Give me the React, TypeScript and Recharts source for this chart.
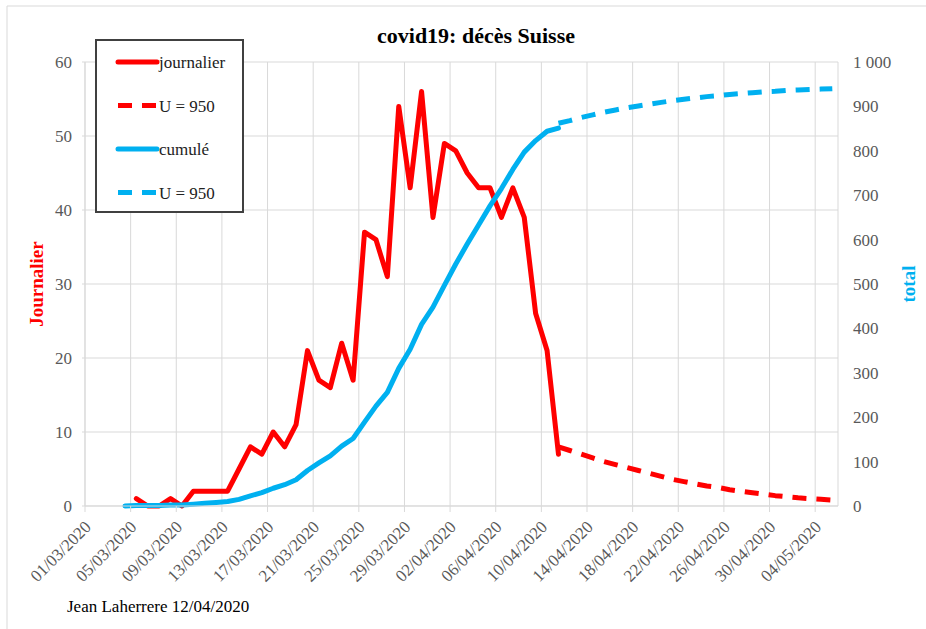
import React from "react";
import { CartesianGrid, ComposedChart, Line, XAxis, YAxis } from "recharts";

const FONT = "'Liberation Serif', 'Times New Roman', serif";
const RED = "#FF0000";
const BLUE = "#00B0F0";
const GRID = "#D9D9D9";
const TICK = "#595959";

const pad = (n: number) => String(n).padStart(2, "0");

// one category per day, 01/03/2020 .. 05/05/2020
const days: string[] = [];
for (let d = 1; d <= 31; d++) days.push(`${pad(d)}/03/2020`);
for (let d = 1; d <= 30; d++) days.push(`${pad(d)}/04/2020`);
for (let d = 1; d <= 5; d++) days.push(`${pad(d)}/05/2020`);

const tickLabels = [
  "01/03/2020", "05/03/2020", "09/03/2020", "13/03/2020", "17/03/2020",
  "21/03/2020", "25/03/2020", "29/03/2020", "02/04/2020", "06/04/2020",
  "10/04/2020", "14/04/2020", "18/04/2020", "22/04/2020", "26/04/2020",
  "30/04/2020", "04/05/2020",
];

const journalierStart = "05/03/2020";
const journalier = [
  1, 0, 0, 1, 0, 2, 2, 2, 2, 5, 8, 7, 10, 8, 11, 21, 17, 16, 22, 17, 37, 36,
  31, 54, 43, 56, 39, 49, 48, 45, 43, 43, 39, 43, 39, 26, 21, 7,
];

const journalierModelStart = "11/04/2020";
const journalierModel = [
  8, 7.5, 7, 6.5, 6, 5.6, 5.2, 4.8, 4.4, 4.0, 3.6, 3.3, 3.0, 2.7, 2.5, 2.2, 2.0,
  1.8, 1.6, 1.4, 1.25, 1.1, 1.0, 0.9, 0.8,
];

const cumuleStart = "04/03/2020";
const cumule = [
  0, 1, 1, 1, 2, 2, 4, 6, 8, 10, 15, 23, 30, 40, 48, 59, 80, 97, 113, 135, 152,
  189, 225, 256, 310, 353, 409, 448, 497, 545, 590, 633, 676, 715, 758, 797,
  823, 844, 851,
];

const cumuleModelStart = "11/04/2020";
const cumuleModel = [
  862, 868, 875, 881, 887, 892, 897, 901, 905, 909, 913, 916, 919, 922, 924,
  927, 929, 931, 933, 934, 936, 937, 938, 939, 940,
];

const leftTicks = [0, 10, 20, 30, 40, 50, 60];
const rightTicks = [0, 100, 200, 300, 400, 500, 600, 700, 800, 900, 1000];

const series = [
  { key: "jour", name: "journalier", color: RED, dashed: false, axis: "left", start: journalierStart, values: journalier },
  { key: "jourU", name: "U = 950", color: RED, dashed: true, axis: "left", start: journalierModelStart, values: journalierModel },
  { key: "cumul", name: "cumulé", color: BLUE, dashed: false, axis: "right", start: cumuleStart, values: cumule },
  { key: "cumulU", name: "U = 950", color: BLUE, dashed: true, axis: "right", start: cumuleModelStart, values: cumuleModel },
];

const rows = days.map((date, i) => {
  const row: Record<string, number | string | null> = { x: i, date };
  series.forEach((s) => {
    const k = i - days.indexOf(s.start);
    row[s.key] = k >= 0 && k < s.values.length ? s.values[k] : null;
  });
  return row;
});

// ticks sit on the day boundaries, every 4 days
const xTicks = tickLabels.map((label) => days.indexOf(label) - 0.5);

const DateTick = (props: any) => {
  const { x, y, payload } = props;
  const label = days[Math.round(payload.value + 0.5)];
  const ax = x + 7;
  const ay = y + 14;
  return (
    <text
      x={ax}
      y={ay}
      transform={`rotate(-45, ${ax}, ${ay})`}
      textAnchor="end"
      fill={TICK}
      fontSize={17}
      fontFamily={FONT}
    >
      {label}
    </text>
  );
};

const fmtThousands = (v: number) =>
  String(v).replace(/\B(?=(\d{3})+(?!\d))/g, " ");

function LegendBox() {
  return (
    <g>
      <rect x={96} y={40} width={147} height={172} fill="#fff" stroke="#404040" strokeWidth={2} />
      {series.map((s, i) => {
        const cy = 62 + i * 43.5;
        return (
          <g key={s.key}>
            <line
              x1={118}
              x2={157}
              y1={cy}
              y2={cy}
              stroke={s.color}
              strokeWidth={5}
              strokeLinecap={s.dashed ? "butt" : "round"}
              strokeDasharray={s.dashed ? "14 10" : undefined}
            />
            <text x={159} y={cy + 6} fontSize={17} fontFamily={FONT} fill="#222">
              {s.name}
            </text>
          </g>
        );
      })}
    </g>
  );
}

export default function App() {
  return (
    <div style={{ position: "absolute", left: 0, top: 0, width: 926, height: 629, background: "#fff" }}>
      <ComposedChart
        width={926}
        height={629}
        data={rows}
        margin={{ top: 62, right: 0, bottom: 0, left: 0 }}
      >
        <CartesianGrid yAxisId="left" stroke={GRID} strokeWidth={1} />
        <XAxis
          dataKey="x"
          type="number"
          domain={[-0.5, 65.5]}
          ticks={xTicks}
          interval={0}
          height={123}
          tickSize={6}
          tickMargin={2}
          stroke={GRID}
          tick={<DateTick />}
          allowDataOverflow
        />
        <YAxis
          yAxisId="left"
          domain={[0, 60]}
          ticks={leftTicks}
          width={85}
          stroke={GRID}
          tickSize={3}
          tickMargin={10}
          tick={{ fill: TICK, fontSize: 17, fontFamily: FONT }}
        />
        <YAxis
          yAxisId="right"
          orientation="right"
          domain={[0, 1000]}
          ticks={rightTicks}
          width={88}
          axisLine={false}
          tickLine={false}
          tickSize={0}
          tickMargin={15}
          tickFormatter={fmtThousands}
          tick={{ fill: TICK, fontSize: 17, fontFamily: FONT, textAnchor: "start" }}
        />
        {series.map((s) => (
          <Line
            key={s.key}
            yAxisId={s.axis}
            dataKey={s.key}
            name={s.name}
            type="linear"
            stroke={s.color}
            strokeWidth={5}
            strokeLinejoin="round"
            strokeLinecap={s.dashed ? "butt" : "round"}
            strokeDasharray={s.dashed ? "14 10" : undefined}
            dot={false}
            activeDot={false}
            isAnimationActive={false}
          />
        ))}
      </ComposedChart>
      <svg
        width={926}
        height={629}
        style={{ position: "absolute", left: 0, top: 0, pointerEvents: "none" }}
      >
        <line x1={7} y1={6} x2={7} y2={629} stroke={GRID} />
        <line x1={7} y1={6} x2={926} y2={6} stroke={GRID} />
        <text x={476} y={43} textAnchor="middle" fontSize={22} fontWeight="bold" fontFamily={FONT} fill="#000">
          covid19: décès Suisse
        </text>
        <text
          x={43}
          y={284}
          transform="rotate(-90, 43, 284)"
          textAnchor="middle"
          fontSize={19}
          fontWeight="bold"
          fontFamily={FONT}
          fill={RED}
        >
          Journalier
        </text>
        <text
          x={915}
          y={284}
          transform="rotate(-90, 915, 284)"
          textAnchor="middle"
          fontSize={19}
          fontWeight="bold"
          fontFamily={FONT}
          fill={BLUE}
        >
          total
        </text>
        <text x={67} y={612} fontSize={17} fontFamily={FONT} fill="#000">
          Jean Laherrere 12/04/2020
        </text>
        <LegendBox />
      </svg>
    </div>
  );
}
